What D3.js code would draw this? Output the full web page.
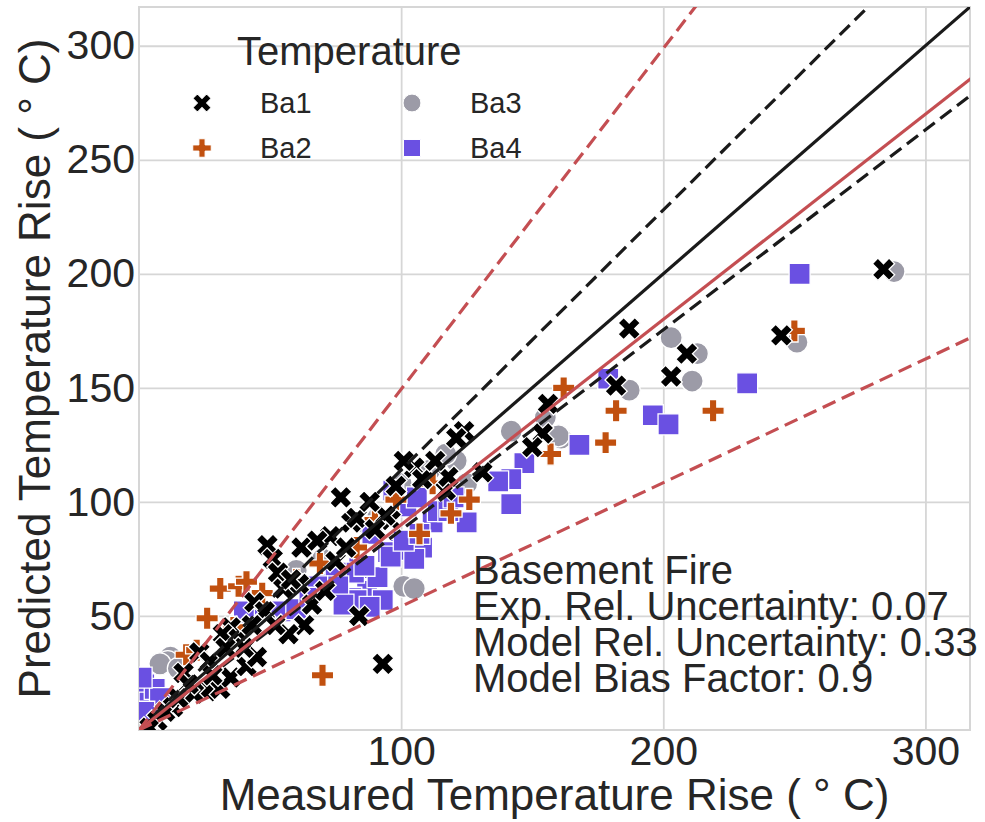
<!DOCTYPE html>
<html>
<head>
<meta charset="utf-8">
<script src="https://cdn.jsdelivr.net/npm/d3@7/dist/d3.min.js"></script>
<style>
  body { margin: 0; background: #fff; }
  text { font-family: "Liberation Sans", Arial, sans-serif; fill: #262626; }
</style>
</head>
<body>
<div id="vis"></div>
<script>
// measured / predicted temperature rise per device (deg C)
const ba1Meas = [284,245,209,203,187,182,156,154,150,131,124,121,117,118,105,101,98,77,96,94,81,83,62,49,51,73,68,84,93,53,44,35,32,63,66,71,57,23,17,26,31,35,41,45,21,13,7,4,61,75,79,38,55,48,27,10,88,108,58,113,90,28,52,40,19,15,33,43];
const ba1Pred = [202,173,165,155,176,151,143,130,124,113,131,128,105,111,115,118,107,102,92,94,91,93,80,81,75,85,83,50,29,69,56,45,42,46,55,61,42,34,25,17,18,23,28,32,16,10,4,1,64,74,80,40,62,52,30,8,100,110,66,118,88,24,46,36,20,14,36,46];

const ba2Meas = [250,219,182,178,162,157,126,70,31,26,38,18,98,119,83,69,41,107,36,47,60,22,112,90];
const ba2Pred = [175,140,140,126,150,121,101,24,62,49,63,33,101,95,80,73,65,86,45,60,66,35,108,92];

const ba3Meas = [288,251,203,213,211,187,161,155,142,160,121,110,125,111,101,105,12,11,8,117,91,88,60,40,100,70,15];
const ba3Pred = [201,170,172,165,153,149,128,137,131,129,118,113,108,114,63,62,32,30,29,121,93,89,70,45,108,75,27];

const ba4Meas = [252,232,196,202,168,179,147,142,137,142,125,108,100,95,112,114,102,106,87,81,84,91,89,82,118,97,120,42,54,60,72,75,40,83,93,86,96,105,101,107,68,76,60,2,3,4,6,8,2,1,78,88,65];
const ba4Pred = [200,152,138,134,125,154,117,110,109,99,91,80,79,78,91,96,98,102,61,58,71,67,86,69,96,105,102,50,52,53,64,69,52,57,57,72,76,75,83,86,63,63,64,20,16,12,18,14,8,23,55,54,58];

const xTicks = [100, 200, 300];
const yTicks = [50, 100, 150, 200, 250, 300];

const seriesNames = ["Ba1", "Ba2", "Ba3", "Ba4"];
const annotation = ["Basement Fire", "Exp. Rel. Uncertainty: 0.07", "Model Rel. Uncertainty: 0.33", "Model Bias Factor: 0.9"];

const SIG_E = 0.07, SIG_M = 0.33, BIAS = 0.9;
const LIMIT = 317;

const WIDTH = 985, HEIGHT = 822;
const LEFT = 139, RIGHT = 970, TOP = 7, BOTTOM = 730;

const x = d3.scaleLinear([0, LIMIT], [LEFT, RIGHT]);
const y = d3.scaleLinear([0, LIMIT], [BOTTOM, TOP]);

const COLORS = { Ba1: "#000000", Ba2: "#c1500f", Ba3: "#9c9ba7", Ba4: "#6a50e2" };

const svg = d3.select("#vis").append("svg")
  .attr("width", WIDTH)
  .attr("height", HEIGHT);

svg.append("rect").attr("width", WIDTH).attr("height", HEIGHT).attr("fill", "#fff");

svg.append("defs").append("clipPath").attr("id", "clip")
  .append("rect")
    .attr("x", LEFT).attr("y", TOP)
    .attr("width", RIGHT - LEFT).attr("height", BOTTOM - TOP);

// grid + tick labels
const xAxis = svg.append("g")
  .attr("transform", `translate(0, ${BOTTOM})`)
  .call(d3.axisBottom(x).tickValues(xTicks).tickSize(-(BOTTOM - TOP)).tickPadding(6));
const yAxis = svg.append("g")
  .attr("transform", `translate(${LEFT}, 0)`)
  .call(d3.axisLeft(y).tickValues(yTicks).tickSize(-(RIGHT - LEFT)).tickPadding(4));

[xAxis, yAxis].forEach(g => {
  g.select(".domain").remove();
  g.selectAll(".tick line").attr("stroke", "#d6d6d6").attr("stroke-width", 1.8);
  g.selectAll(".tick text").attr("font-size", 41).attr("fill", "#262626")
    .style("font-family", '"Liberation Sans", Arial, sans-serif');
});

svg.append("rect")
  .attr("x", LEFT).attr("y", TOP)
  .attr("width", RIGHT - LEFT).attr("height", BOTTOM - TOP)
  .attr("fill", "none").attr("stroke", "#d6d6d6").attr("stroke-width", 2);

// markers
const sym = {
  Ba1: d3.symbol().type(d3.symbolCross).size(310),
  Ba2: d3.symbol().type(d3.symbolCross).size(275),
  Ba3: d3.symbol().type(d3.symbolCircle).size(380),
  Ba4: d3.symbol().type(d3.symbolSquare).size(440)
};
const rot = { Ba1: 45, Ba2: 0, Ba3: 0, Ba4: 0 };

const series = [
  { name: "Ba3", meas: ba3Meas, pred: ba3Pred },
  { name: "Ba4", meas: ba4Meas, pred: ba4Pred },
  { name: "Ba2", meas: ba2Meas, pred: ba2Pred },
  { name: "Ba1", meas: ba1Meas, pred: ba1Pred }
];

const pts = svg.append("g").attr("clip-path", "url(#clip)");
series.forEach(s => {
  pts.append("g").selectAll("path")
    .data(s.meas.map((m, i) => [m, s.pred[i]]))
    .enter()
    .append("path")
      .attr("d", sym[s.name]())
      .attr("transform", d => `translate(${x(d[0])},${y(d[1])}) rotate(${rot[s.name]})`)
      .attr("fill", COLORS[s.name])
      .attr("stroke", "#fff")
      .attr("stroke-width", 1.3);
});

// reference lines
const refLines = [
  { k: 1, color: "#1a1a1a", dash: null },
  { k: 1 + 2 * SIG_E, color: "#1a1a1a", dash: "14,7" },
  { k: 1 / (1 + 2 * SIG_E), color: "#1a1a1a", dash: "14,7" },
  { k: BIAS, color: "#c44e52", dash: null },
  { k: BIAS * (1 + 2 * SIG_M), color: "#c44e52", dash: "14,7" },
  { k: BIAS / (1 + 2 * SIG_M), color: "#c44e52", dash: "14,7" }
];
const lineGen = d3.line().x(d => x(d[0])).y(d => y(d[1]));
const lines = svg.append("g").attr("clip-path", "url(#clip)");
refLines.forEach(l => {
  lines.append("path")
    .attr("d", lineGen([[0, 0], [LIMIT * 2, LIMIT * 2 * l.k]]))
    .attr("fill", "none")
    .attr("stroke", l.color)
    .attr("stroke-width", 3.2)
    .attr("stroke-dasharray", l.dash);
});

// axis labels
svg.append("text")
  .attr("x", (LEFT + RIGHT) / 2).attr("y", 810)
  .attr("text-anchor", "middle").attr("font-size", 44)
  .text("Measured Temperature Rise ( ° C)");
svg.append("text")
  .attr("transform", `translate(50, ${(TOP + BOTTOM) / 2}) rotate(-90)`)
  .attr("text-anchor", "middle").attr("font-size", 44)
  .text("Predicted Temperature Rise ( ° C)");

// legend
const leg = svg.append("g");
leg.append("text").attr("x", 237).attr("y", 65).attr("font-size", 40).text("Temperature");
const legPos = {
  Ba1: [202, 103], Ba2: [202, 148], Ba3: [412, 103], Ba4: [412, 148]
};
const legSym = {
  Ba1: d3.symbol().type(d3.symbolCross).size(210),
  Ba2: d3.symbol().type(d3.symbolCross).size(190),
  Ba3: d3.symbol().type(d3.symbolCircle).size(250),
  Ba4: d3.symbol().type(d3.symbolSquare).size(290)
};
seriesNames.forEach(n => {
  const [px, py] = legPos[n];
  leg.append("path")
    .attr("d", legSym[n]())
    .attr("transform", `translate(${px},${py}) rotate(${rot[n]})`)
    .attr("fill", COLORS[n])
    .attr("stroke", "#fff").attr("stroke-width", 1);
  leg.append("text").attr("x", px + 58).attr("y", py + 10).attr("font-size", 29).text(n);
});

// stats annotation
svg.append("g").selectAll("text")
  .data(annotation)
  .enter()
  .append("text")
    .attr("x", 473)
    .attr("y", (d, i) => 584 + i * 36)
    .attr("font-size", 40)
    .text(d => d);
</script>
</body>
</html>
